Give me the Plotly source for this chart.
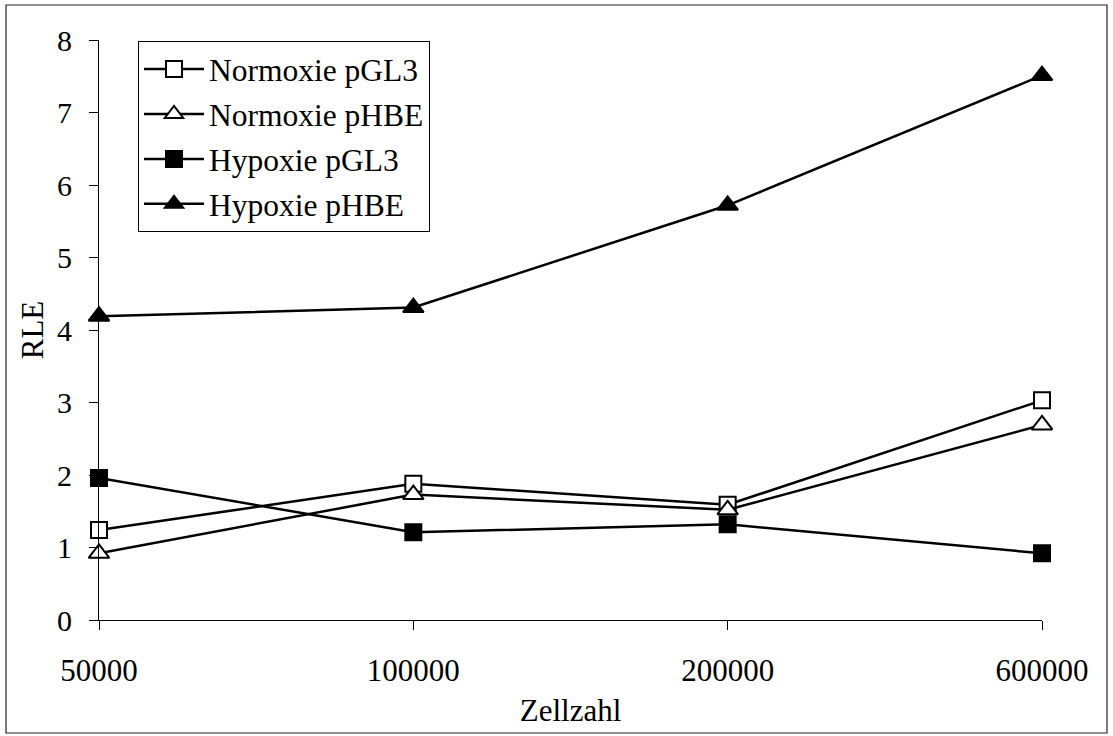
import plotly.graph_objects as go

# Zellzahl categories and relative luciferase expression (RLE)
zellzahl = ["50000", "100000", "200000", "600000"]
normoxie_pgl3 = [1.24, 1.88, 1.59, 3.03]
normoxie_phbe = [0.92, 1.73, 1.52, 2.69]
hypoxie_pgl3 = [1.96, 1.21, 1.32, 0.92]
hypoxie_phbe = [4.19, 4.31, 5.72, 7.51]
y_ticks = [0, 1, 2, 3, 4, 5, 6, 7, 8]

FONT = "Liberation Serif, Times New Roman, serif"

series = [
    ("Normoxie pGL3", normoxie_pgl3, "square", "white", 16),
    ("Normoxie pHBE", normoxie_phbe, "triangle-up", "white", 18),
    ("Hypoxie pGL3", hypoxie_pgl3, "square", "black", 16),
    ("Hypoxie pHBE", hypoxie_phbe, "triangle-up", "black", 18),
]

fig = go.Figure()
for i, (name, vals, sym, fill, size) in enumerate(series):
    fig.add_trace(go.Scatter(
        x=list(range(len(zellzahl))), y=vals, name=name, mode="lines+markers",
        line=dict(color="black", width=2.5),
        marker=dict(symbol=sym, size=size, color=fill,
                    line=dict(color="black", width=2)),
        legendgroup=f"g{i}", cliponaxis=False,
    ))

W, H = 1113, 736
L, R, T, B = 99, 71, 40, 116
pw, ph = W - L - R, H - T - B

def px_to_paper(x, y):
    return (x - L) / pw, (H - B - y) / ph

# frame around the whole chart
x0, y0 = px_to_paper(6, 733)
x1, y1 = px_to_paper(1107, 5)
fig.add_shape(type="rect", xref="paper", yref="paper", x0=x0, y0=y0, x1=x1, y1=y1,
              line=dict(color="#222", width=1.2), fillcolor="rgba(0,0,0,0)", layer="below")

lx, ly = px_to_paper(138, 41)

fig.update_layout(
    width=W, height=H,
    margin=dict(l=L, r=R, t=T, b=B, pad=0),
    paper_bgcolor="white", plot_bgcolor="white",
    font=dict(family=FONT, size=31, color="black"),
    showlegend=True,
    legend=dict(
        x=lx, y=ly, xanchor="left", yanchor="top",
        bgcolor="white", bordercolor="black", borderwidth=1,
        font=dict(family=FONT, size=31.5, color="black"),
        tracegroupgap=1, itemwidth=60,
    ),
    xaxis=dict(
        range=[0, 3], tickmode="array", tickvals=list(range(len(zellzahl))), ticktext=zellzahl,
        showline=True, linecolor="black", linewidth=1, mirror=False,
        ticks="outside", ticklen=9, tickcolor="black", tickwidth=1,
        showgrid=False, zeroline=False,
        tickfont=dict(family=FONT, size=31), ticklabelstandoff=14,
        title=dict(text="Zellzahl", font=dict(family=FONT, size=31), standoff=12),
        automargin=False,
    ),
    yaxis=dict(
        range=[0, 8], tickmode="array", tickvals=y_ticks,
        showline=True, linecolor="black", linewidth=1,
        ticks="outside", ticklen=9, tickcolor="black", tickwidth=1,
        showgrid=False, zeroline=False,
        tickfont=dict(family=FONT, size=30), ticklabelstandoff=11,
        title=dict(text="RLE", font=dict(family=FONT, size=31), standoff=4),
        automargin=False,
    ),
)

fig.write_html("out.html")
